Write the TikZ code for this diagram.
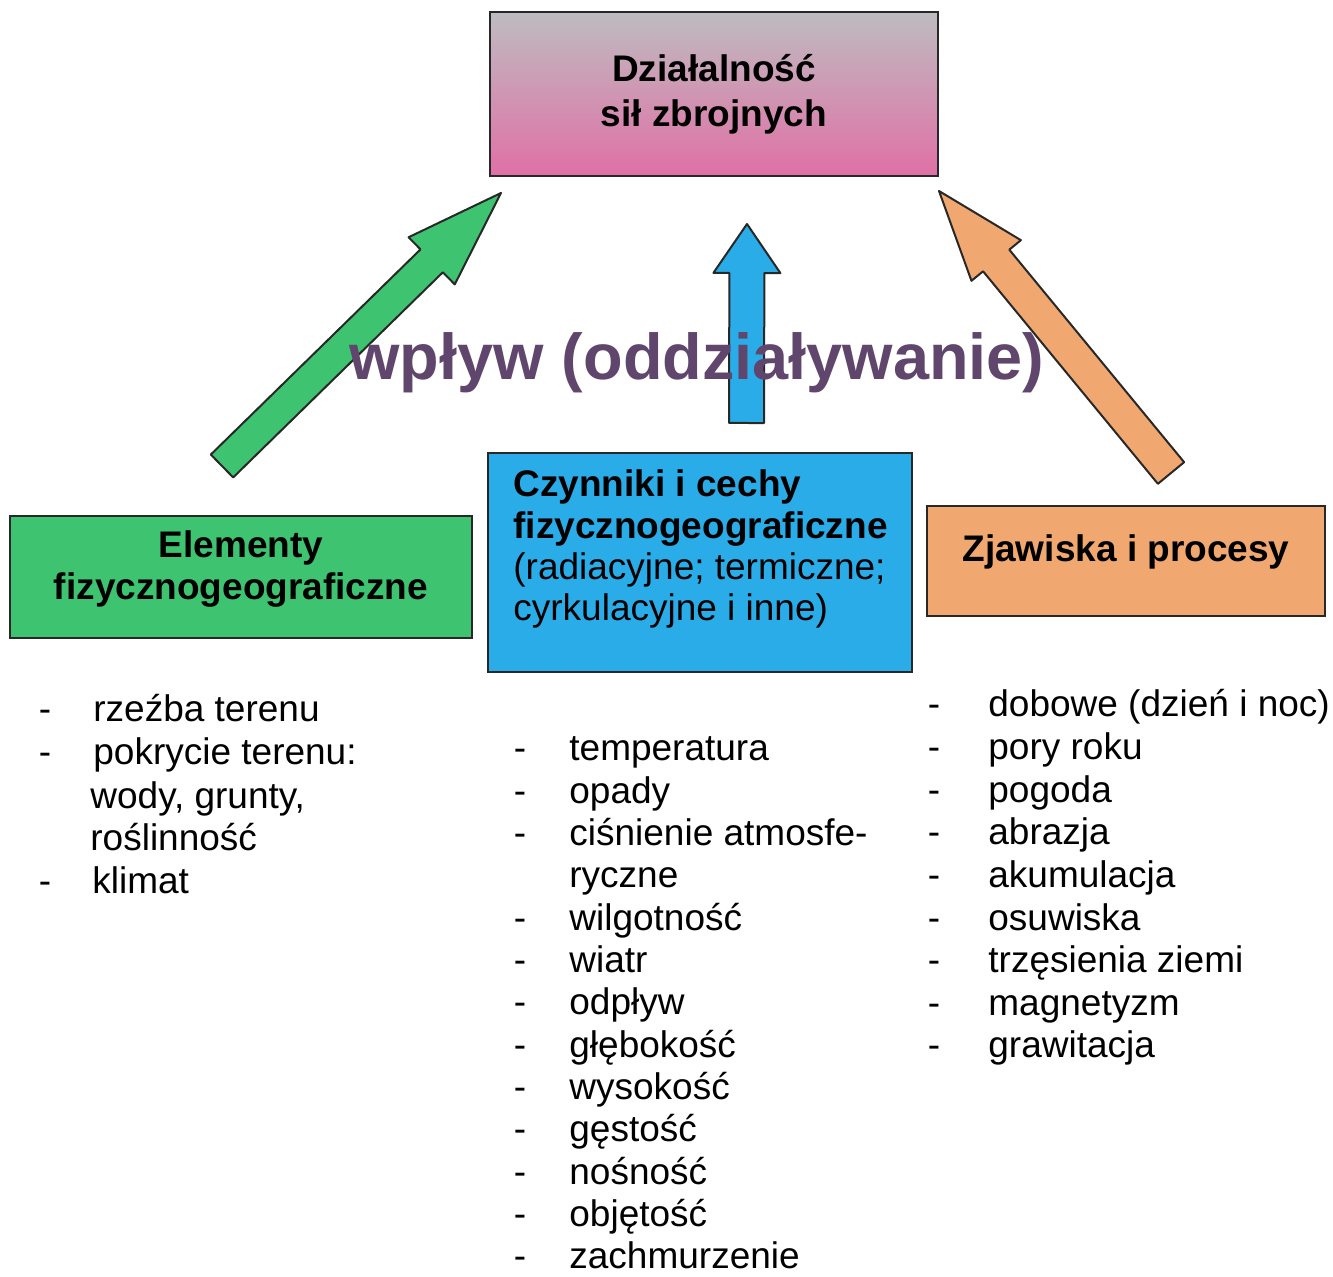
\documentclass[tikz,border=0pt]{standalone}
\usepackage{fontspec}
\setmainfont{Liberation Sans}
\usetikzlibrary{calc}

\definecolor{boxgreen}{RGB}{62,196,112}
\definecolor{boxblue}{RGB}{42,172,232}
\definecolor{boxorange}{RGB}{240,168,112}
\definecolor{topgray}{RGB}{190,188,192}
\definecolor{topmid}{RGB}{214,160,188}
\definecolor{toppink}{RGB}{224,112,166}
\definecolor{edge}{RGB}{40,40,40}
\definecolor{impact}{RGB}{96,70,108}

\newcommand\listfont{\fontsize{18.5}{21.5}\selectfont}
\newcommand\headfont{\fontsize{18.5}{21.5}\selectfont\bfseries}

% wide block arrow: #1 tail, #2 tip, #3 half shaft width, #4 half head width, #5 head length, #6 fill
\newcommand\widearrow[6]{%
  \draw[arrowline, fill=#6]
    ($(#1)!#3!90:(#2)$) --
    ($($(#2)!#5!(#1)$)!#3!-90:(#1)$) --
    ($($(#2)!#5!(#1)$)!#4!-90:(#1)$) --
    (#2) --
    ($($(#2)!#5!(#1)$)!#4!90:(#1)$) --
    ($($(#2)!#5!(#1)$)!#3!90:(#1)$) --
    ($(#1)!#3!-90:(#2)$) -- cycle;%
}

\begin{document}
\begin{tikzpicture}[x=0.5pt,y=-0.5pt,
  box/.style={draw=edge, line width=1pt, inner sep=0pt},
  arrowline/.style={draw=edge, line width=1pt, line join=round},
  headline/.style={anchor=base, inner sep=0pt, font=\headfont},
  boxline/.style={anchor=base west, inner sep=0pt, font=\listfont},
  listtext/.style={anchor=base west, inner sep=0pt, font=\listfont},
  dashmark/.style={anchor=base, inner sep=0pt, font=\listfont}]
\useasboundingbox (0,0) rectangle (1333,1277);

% boxes
\node[box, minimum width=224pt, minimum height=82pt,
      top color=topgray, middle color=topmid, bottom color=toppink] (forces) at (714,94) {};
\node[box, fill=boxgreen, minimum width=231pt, minimum height=61pt] (elements) at (241,577) {};
\node[box, fill=boxblue, minimum width=212pt, minimum height=109.5pt] (factors) at (700,562.5) {};
\node[box, fill=boxorange, minimum width=199pt, minimum height=55pt] (phenomena) at (1126,561) {};

% box texts
\node[headline] (forces1) at (714,82) {Działalność};
\node[headline] (forces2) at (714,127) {sił zbrojnych};
\node[headline] (elements1) at (241,558) {Elementy};
\node[headline] (elements2) at (241,600) {fizycznogeograficzne};
\node[boxline, font=\headfont] (factors1) at (513,497) {Czynniki i cechy};
\node[boxline, font=\headfont] (factors2) at (513,539) {fizycznogeograficzne};
\node[boxline] (factors3) at (513,580) {(radiacyjne; termiczne;};
\node[boxline] (factors4) at (513,621) {cyrkulacyjne i inne)};
\node[headline] (phenomena1) at (1126,562) {Zjawiska i procesy};

% arrow ends
\coordinate (gTail) at ($(elements.north)+(-19,-49)$);
\coordinate (gTip) at ($(forces.south west)+(12,16)$);
\coordinate (bTail) at ($(factors.north)+(46.5,-29)$);
\coordinate (bTip) at ($(forces.south)+(33,47)$);
\coordinate (oTail) at ($(phenomena.north)+(45,-32)$);
\coordinate (oTip) at ($(forces.south east)+(0,14)$);

\widearrow{gTail}{gTip}{8pt}{16.5pt}{48.5pt}{boxgreen}
\widearrow{bTail}{bTip}{8.75pt}{16.75pt}{24.5pt}{boxblue}

\node[anchor=base, inner sep=0pt, text=impact,
      font=\fontsize{32.4}{36}\selectfont\bfseries] (impact) at (697,380) {wpływ (oddziaływanie)};

\widearrow{oTail}{oTip}{8.5pt}{16pt}{45pt}{boxorange}

% left list
\node[dashmark] (ld1) at (45,722) {-};
\node[listtext] (lt1) at (93,722) {rzeźba terenu};
\node[dashmark] (ld2) at (45,765) {-};
\node[listtext] (lt2) at (93,765) {pokrycie terenu:};
\node[listtext] (lt3) at (90,808) {wody, grunty,};
\node[listtext] (lt4) at (90,850) {roślinność};
\node[dashmark] (ld5) at (45,893) {-};
\node[listtext] (lt5) at (92,893) {klimat};

% middle list
\foreach \t/\d [count=\i from 0] in {temperatura/1, opady/1, ciśnienie atmosfe-/1, ryczne/0,
    wilgotność/1, wiatr/1, odpływ/1, głębokość/1, wysokość/1, gęstość/1, nośność/1,
    objętość/1, zachmurzenie/1}{
  \node[listtext] (mt\i) at (569,761+42.3*\i) {\t};
  \ifnum\d=1 \node[dashmark] (md\i) at (520,761+42.3*\i) {-};\fi
}

% right list
\foreach \t [count=\i from 0] in {dobowe (dzień i noc), pory roku, pogoda, abrazja,
    akumulacja, osuwiska, trzęsienia ziemi, magnetyzm, grawitacja}{
  \node[listtext] (rt\i) at (988,717+42.6*\i) {\t};
  \node[dashmark] (rd\i) at (934,717+42.6*\i) {-};
}
\end{tikzpicture}
\end{document}
